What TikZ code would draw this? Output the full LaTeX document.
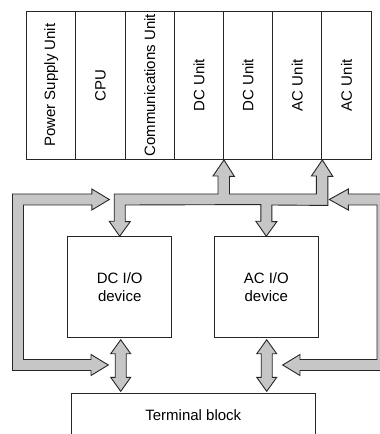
\documentclass[tikz,border=0pt]{standalone}
\usepackage{fontspec}
\setmainfont{Liberation Sans}
\usetikzlibrary{calc}

\newcommand{\fatdouble}[2]{%
  \draw[fat] (#1) -- ++(10,-14) -- ++(-4.5,0) -- ($(#2)+(5.5,14)$) -- ++(4.5,0)
    -- (#2) -- ++(-10,14) -- ++(4.5,0) -- ($(#1)+(-5.5,-14)$) -- ++(-4.5,0) -- cycle;}

\begin{document}
\begin{tikzpicture}[x=1pt, y=1pt,
  unit/.style={rectangle, draw=black!85, line width=0.9pt, inner sep=0pt,
               minimum width=49.2pt, minimum height=148.5pt,
               font=\fontsize{15}{18}\selectfont},
  device/.style={rectangle, draw=black!85, line width=0.9pt, align=center,
                 minimum width=104pt, minimum height=100.6pt,
                 font=\fontsize{15}{18}\selectfont},
  tblock/.style={rectangle, draw=black!85, line width=0.9pt,
                 minimum width=243.3pt, minimum height=43.4pt,
                 font=\fontsize{15}{18}\selectfont},
  fat/.style={draw=black!85, fill=gray!45, line width=0.9pt, line join=miter}
]
\useasboundingbox (0,0) rectangle (380,434);
\clip (0,0) rectangle (380,434);

% rack of units
\foreach \i/\txt in {1/Power Supply Unit, 2/CPU, 3/Communications Unit,
                     4/DC Unit, 5/DC Unit, 6/AC Unit, 7/AC Unit}
  \node[unit] (u\i) at ({26.7+49.2*(\i-0.5)}, 348.75) {\rotatebox{90}{\txt}};

\node[device] (dcio) at (119.7,147) {DC I/O\\device};
\node[device] (acio) at (266.3,147) {AC I/O\\device};
\node[tblock] (term) at (193.3,19) {Terminal block};

% bus from the units to the I/O devices
\draw[fat] (u4.south east) -- ++(10.5,-16.5) -- ++(-5,0) |- (316.4,240)
  -- ++(0,18) -- ++(-5,0) -- (u6.south east) -- ++(10.5,-16.5) -- ++(-5,0)
  -- ++(0,-29) -- (271.8,229) -- ++(0,-16.7) -- ++(5,0) -- (acio.north)
  -- ++(-10.5,15) -- ++(5,0) -- ++(0,16.7) -- (125.2,229) -- ++(0,-16.7)
  -- ++(5,0) -- (dcio.north) -- ++(-10.5,15) -- ++(5,0) |- (218,240)
  -- ++(0,18) -- ++(-5,0) -- cycle;

% I/O devices to terminal block
\coordinate (dctop) at ($(dcio.south)+(1,-2)$);
\coordinate (dcbot) at ($(dcio.south |- term.north)+(1,1.5)$);
\coordinate (actop) at ($(acio.south)+(0.4,-2)$);
\coordinate (acbot) at ($(acio.south |- term.north)+(0.4,1.5)$);
\fatdouble{dctop}{dcbot}
\fatdouble{actop}{acbot}

% side loops
\draw[fat] (109.3,234.5) -- ++(-17.5,10.5) -- ++(0,-5) -- (12.5,240)
  -- (12.5,63.5) -- (91,63.5) -- ++(0,-5) -- (108.3,69) -- ++(-17.3,10.5)
  -- ++(0,-5) -- (23.5,74.5) -- (23.5,229) -- (91.8,229) -- ++(0,-5) -- cycle;
\draw[fat] (329.3,234.5) -- ++(19,10.5) -- ++(0,-5) -- (388,240)
  -- (388,63.5) -- (300,63.5) -- ++(0,-5) -- (282.7,69) -- ++(17.3,10.5)
  -- ++(0,-5) -- (377,74.5) -- (377,229) -- (348.3,229) -- ++(0,-5) -- cycle;
\end{tikzpicture}
\end{document}
